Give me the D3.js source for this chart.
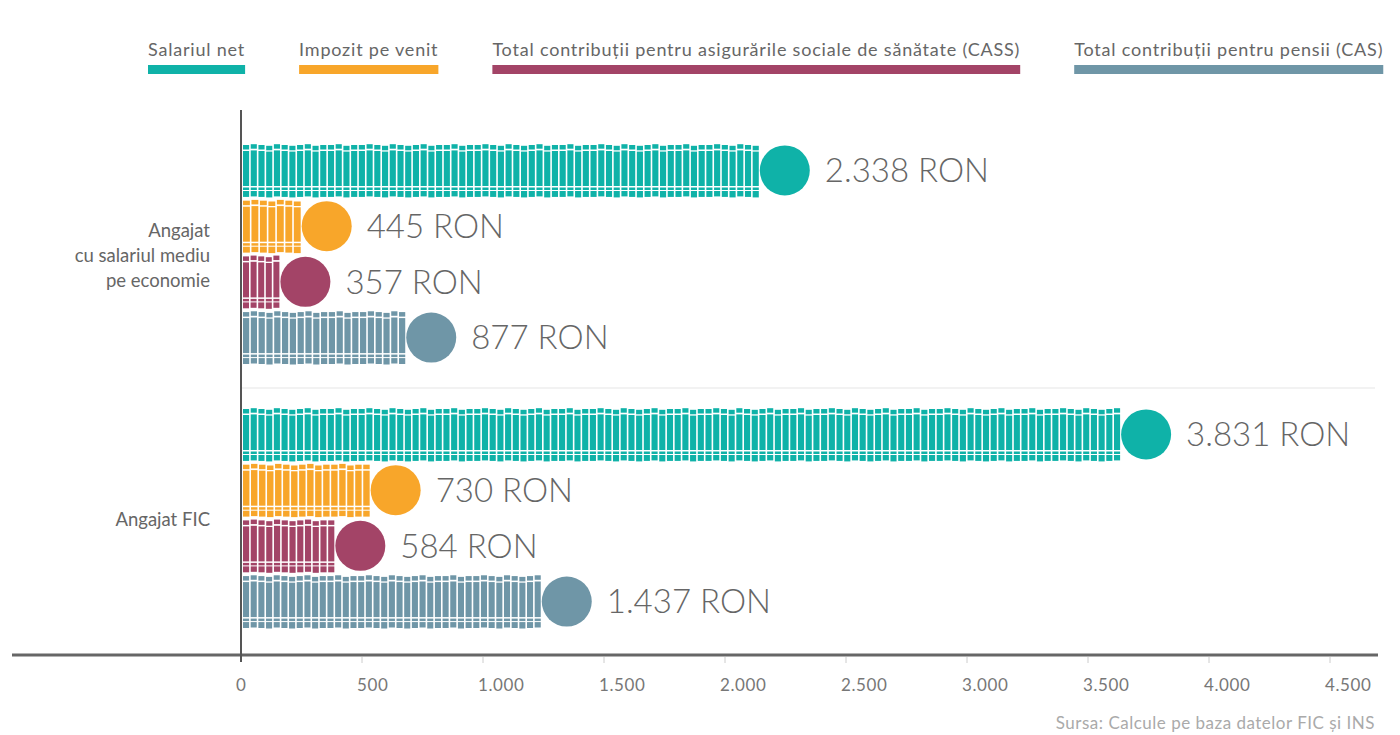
<!DOCTYPE html>
<html><head><meta charset="utf-8">
<script src="https://cdn.jsdelivr.net/npm/d3@7/dist/d3.min.js"></script>
<style>
html,body{margin:0;padding:0;background:#fff;}
svg{display:block;font-family:Lato, "Open Sans", sans-serif;}
</style></head>
<body>
<svg id="c" width="1400" height="735"></svg>
<script>
const groups = ["Angajat cu salariul mediu pe economie", "Angajat FIC"];
const groupLines = [["Angajat","cu salariul mediu","pe economie"],["Angajat FIC"]];
const series = ["Salariul net","Impozit pe venit","Total contribuții pentru asigurările sociale de sănătate (CASS)","Total contribuții pentru pensii (CAS)"];
const colors = ["#0fb2a8","#f8a62a","#a34467","#6f96a7"];
const valuesMediu = [2338, 445, 357, 877];
const valuesFIC = [3831, 730, 584, 1437];
const tickValues = [0,500,1000,1500,2000,2500,3000,3500,4000,4500];
const sourceText = "Sursa: Calcule pe baza datelor FIC și INS";

const svg = d3.select("#c");
const x = d3.scaleLinear().domain([0,4500]).range([241,1330]);
const y0 = d3.scaleBand().domain(groups).range([122,650]);
const y1 = d3.scaleBand().domain(series).range([0,y0.bandwidth()]).paddingInner(0.05).paddingOuter(0.395);
const loc = d3.formatLocale({decimal:",",thousands:".",grouping:[3],currency:["",""]});
const fmt = loc.format(",d");

// legend
let lx = 148;
series.forEach((s,i)=>{
  const t = svg.append("text").attr("x",lx).attr("y",56).attr("font-size",18)
    .attr("letter-spacing","0.8px").attr("fill","#666").text(s);
  const w = t.node().getComputedTextLength();
  svg.append("rect").attr("x",lx).attr("y",65).attr("width",w).attr("height",9).attr("fill",colors[i]);
  lx += w + 54;
});

// separator
svg.append("line").attr("x1",241).attr("x2",1375)
  .attr("y1",y0(groups[1])+2).attr("y2",y0(groups[1])+2)
  .attr("stroke","#eeeeee").attr("stroke-width",1.5);

const data = [valuesMediu, valuesFIC];
const r = 25;
const jit = [0,-1,0,1,-1,0,1,0,-1,1,0,0,-1,1,0];
groups.forEach((g,gi)=>{
  const gEl = svg.append("g").attr("transform",`translate(0,${y0(g)})`);
  series.forEach((s,si)=>{
    const v = data[gi][si];
    const top = y1(s), h = y1.bandwidth();
    const cy = top + h/2;
    const cx = x(v) - 22;
    const barEnd = cx - r - 1;
    const start = x(0) + 2;
    const n = Math.max(1, Math.round((barEnd - start) / 7.7));
    const pitch = (barEnd - start + 1.6) / n;
    const cg = gEl.append("g");
    d3.range(n).forEach(i=>{
      const cx0 = start + i*pitch;
      const j = jit[i % jit.length];
      const w = pitch - 1.6;
      cg.append("rect").attr("x",cx0).attr("y",top + 1 + j*0.8).attr("width",w).attr("height",4.5).attr("fill",colors[si]);
      cg.append("rect").attr("x",cx0).attr("y",top + 7 + j*0.6).attr("width",w).attr("height",35 - j*0.6).attr("fill",colors[si]);
      cg.append("rect").attr("x",cx0).attr("y",top + 43.5).attr("width",w).attr("height",2.5).attr("fill",colors[si]);
      cg.append("rect").attr("x",cx0).attr("y",top + 47).attr("width",w).attr("height",h - 47 + (j*0.5)).attr("fill",colors[si]);
    });
    gEl.append("circle").attr("cx",cx).attr("cy",cy).attr("r",r).attr("fill",colors[si]);
    gEl.append("text").attr("x",cx + r + 15).attr("y",cy).attr("dy","0.36em")
      .attr("font-size",33).attr("font-weight",300).attr("fill","#666")
      .text(fmt(v) + " RON");
  });
  const lines = groupLines[gi];
  const mid = y0(g) + y0.bandwidth()/2;
  const lh = 25;
  lines.forEach((ln,k)=>{
    svg.append("text").attr("x",210).attr("y", mid + (k - (lines.length-1)/2)*lh + 2)
      .attr("dy","0.35em").attr("text-anchor","end").attr("font-size",18.5)
      .attr("fill","#666").text(ln);
  });
});

// x axis
const ax = svg.append("g");
ax.append("line").attr("x1",12).attr("x2",1378).attr("y1",655).attr("y2",655)
  .attr("stroke","#666").attr("stroke-width",3);
ax.selectAll(".tk").data(tickValues.slice(1)).join("line")
  .attr("x1",d=>x(d)).attr("x2",d=>x(d)).attr("y1",657).attr("y2",663)
  .attr("stroke","#ccc").attr("stroke-width",1);
ax.selectAll(".tl").data(tickValues).join("text")
  .attr("x",d=>x(d)-5).attr("y",691).attr("font-size",17).attr("letter-spacing","0.6px")
  .attr("fill","#777").text(d=>fmt(d));
svg.append("line").attr("x1",241).attr("x2",241).attr("y1",110).attr("y2",662)
  .attr("stroke","#555").attr("stroke-width",2);

svg.append("text").attr("x",1375).attr("y",729).attr("text-anchor","end")
  .attr("font-size",17).attr("letter-spacing","0.5px").attr("fill","#aaa").text(sourceText);
</script>
</body></html>
